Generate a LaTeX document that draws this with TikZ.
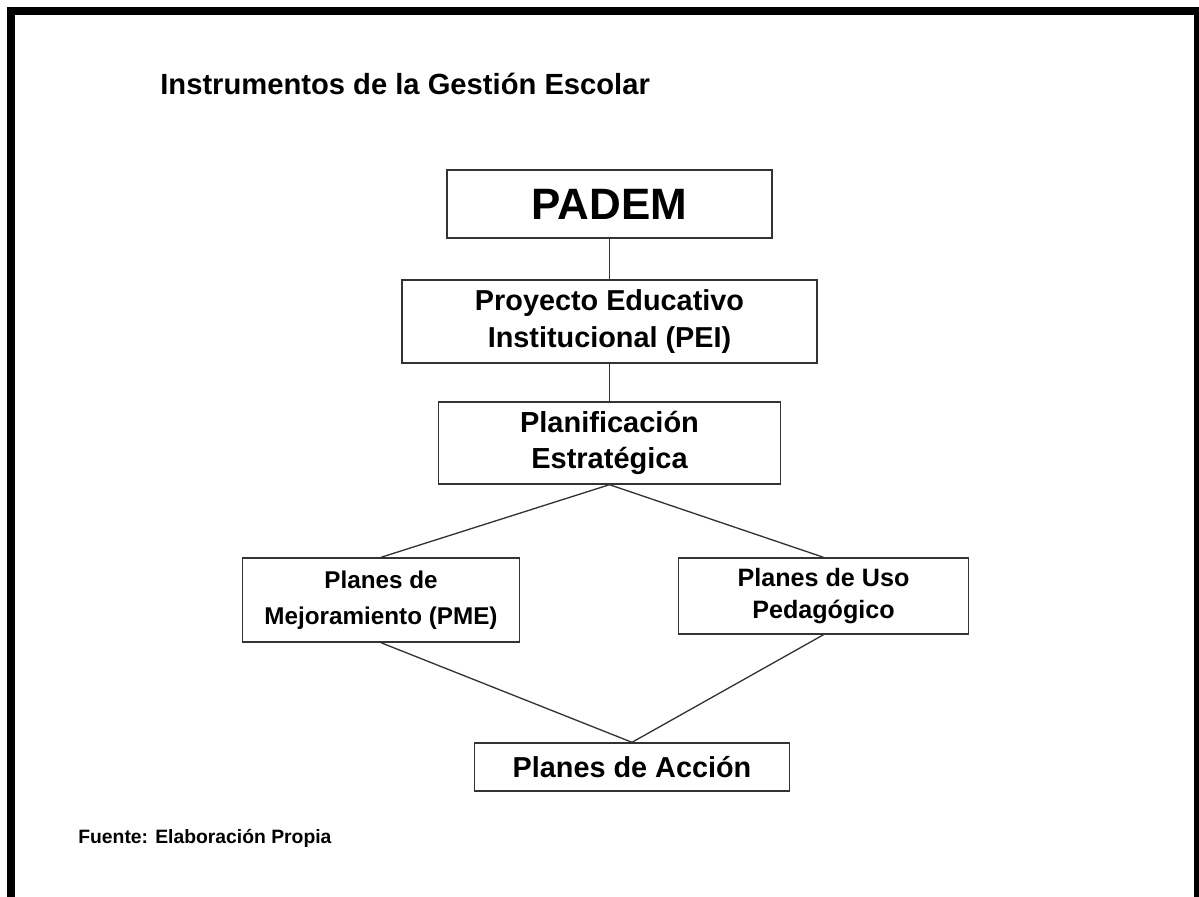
\documentclass[tikz,border=0pt]{standalone}
\usepackage{fontspec}
\setmainfont{Liberation Sans}
\usetikzlibrary{shapes.geometric, arrows}
\tikzstyle{link} = [line width=0.75pt, draw=black!80]
\tikzstyle{boxclass} = [rectangle, draw=black!80, line width=0.8pt, align=center, inner sep=0pt, font=\bfseries]
\tikzstyle{padembox} = [boxclass, minimum width=6.5cm, minimum height=1.36cm, font=\fontsize{25}{30}\selectfont\bfseries]
\tikzstyle{peibox} = [boxclass, minimum width=8.3cm, minimum height=1.66cm, font=\fontsize{16.4}{21.5}\selectfont\bfseries]
\tikzstyle{planbox} = [boxclass, minimum width=6.84cm, minimum height=1.64cm, font=\fontsize{16.5}{20.4}\selectfont\bfseries]
\tikzstyle{pmebox} = [boxclass, minimum width=5.54cm, minimum height=1.68cm, font=\fontsize{13.8}{20.5}\selectfont\bfseries]
\tikzstyle{usobox} = [boxclass, minimum width=5.8cm, minimum height=1.52cm, font=\fontsize{14.3}{18.7}\selectfont\bfseries]
\tikzstyle{accionbox} = [boxclass, minimum width=6.3cm, minimum height=0.96cm, font=\fontsize{16.4}{20}\selectfont\bfseries]
\begin{document}
\begin{tikzpicture}
		\useasboundingbox (0,0) rectangle (23.98,-17.92);
		\clip (0,0) rectangle (23.98,-17.92);
		\fill[white] (0,0) rectangle (23.98,-17.92);
		% marco
		\draw[line width=0.16cm] (0.22,-18.5) -- (0.22,-0.22) -- (23.96,-0.22) -- (23.96,-18.5);
		\node (titulo) [anchor=base west, inner sep=0pt, font=\fontsize{16.6}{20}\selectfont\bfseries] at (3.2,-1.88) {Instrumentos de la Gesti\'on Escolar};
		\node (fuente) [anchor=base west, inner sep=0pt, font=\fontsize{11}{13}\selectfont\bfseries] at (1.56,-16.86) {Fuente: Elaboraci\'on Propia};
		\node (padem) [padembox] at (12.19,-4.08) {PADEM};
		\node (pei) [peibox, below of=padem, yshift=-1.35cm] {Proyecto Educativo\\Institucional (PEI)};
		\node (plan) [planbox, below of=pei, yshift=-1.43cm] {Planificaci\'on\\Estrat\'egica};
		\node (pme) [pmebox, below of=plan, xshift=-4.57cm, yshift=-2.14cm] {Planes de\\Mejoramiento (PME)};
		\node (uso) [usobox, below of=plan, xshift=4.28cm, yshift=-2.06cm] {Planes de Uso\\Pedag\'ogico};
		\node (accion) [accionbox, below of=plan, xshift=0.45cm, yshift=-5.48cm] {Planes de Acci\'on};
		\draw [link] (padem.south) -- (pei.north);
		\draw [link] (pei.south) -- (plan.north);
		\draw [link] (plan.south) -- (pme.north);
		\draw [link] (plan.south) -- (uso.north);
		\draw [link] (pme.south) -- (accion.north);
		\draw [link] (uso.south) -- (accion.north);
	\end{tikzpicture}
\end{document}
